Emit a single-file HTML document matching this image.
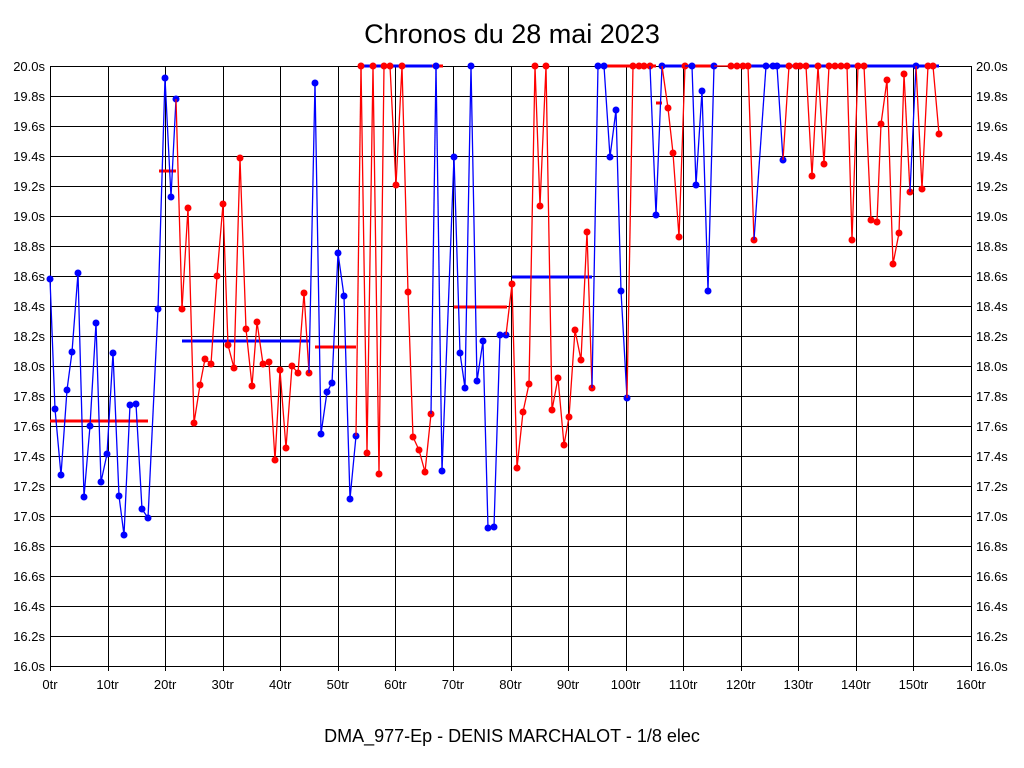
<!DOCTYPE html>
<html><head><meta charset="utf-8"><style>
body{margin:0;background:#fff;}
svg{display:block;font-family:"Liberation Sans",sans-serif;}
</style></head><body>
<svg id="s" width="1024" height="768" viewBox="0 0 1024 768">
<rect x="0" y="0" width="1024" height="768" fill="#fff"/>
<text x="512" y="43" font-size="27" text-anchor="middle">Chronos du 28 mai 2023</text>
<text x="512" y="742" font-size="18" text-anchor="middle">DMA_977-Ep - DENIS MARCHALOT - 1/8 elec</text>
<g id="grid" shape-rendering="crispEdges"></g><g id="avg"></g><g id="ser"></g>
</svg>
<script>
var NS="http://www.w3.org/2000/svg",s=document.getElementById('s');
function el(p,t,a,txt){var e=document.createElementNS(NS,t);for(var k in a)e.setAttribute(k,a[k]);if(txt!=null)e.textContent=txt;document.getElementById(p).appendChild(e);return e;}
var x0=50,x1=971,y0=66,y1=666;
for(var i=0;i<=16;i++){var xr=x0+(x1-x0)*i/16,x=Math.round(xr)+0.5;el('grid','line',{x1:x,y1:y0,x2:x,y2:y1+5,stroke:'#000','stroke-width':1});
el('grid','text',{x:xr,y:689,'font-size':13,'text-anchor':'middle'},(i*10)+'tr');}
for(var j=0;j<=20;j++){var y=y0+30*j+0.5;el('grid','line',{x1:x0,y1:y,x2:x1+0.5,y2:y,stroke:'#000','stroke-width':1});
var v=(20-j*0.2).toFixed(1)+'s';el('grid','text',{x:45,y:y+4.5,'font-size':13,'text-anchor':'end'},v);
el('grid','text',{x:976,y:y+4.5,'font-size':13},v);}
var R='#f00',B='#00f';
var avg=[[50,148,421,R],[159,176,171,R],[182,309,341,B],[315,356,347,R],[362,432,66,B],[432,443,66,R],[454,507,307,R],[512,592,277,B],[598,656,66,R],[656,662,103,R],[662,690,66,B],[690,715,66,R],[735,939,66,B]];
avg.forEach(function(a){el('avg','line',{x1:a[0],y1:a[2],x2:a[1],y2:a[2],stroke:a[3],'stroke-width':3});});
var segs=[
[B,[[50,279],[55,409],[61,475],[67,390],[72,352],[78,273],[84,497],[90,426],[96,323],[101,482],[107,454],[113,353],[119,496],[124,535],[130,405],[136,404],[142,509],[148,518]]],
[B,[[158,309],[165,78],[171,197],[176,99]]],
[R,[[182,309],[188,208],[194,423],[200,385],[205,359],[211,364],[217,276],[223,204],[228,345],[234,368],[240,158],[246,329],[252,386],[257,322],[263,364],[269,362],[275,460],[280,370],[286,448],[292,366],[298,373],[304,293],[309,373]]],
[B,[[315,83],[321,434],[327,392],[332,383],[338,253],[344,296],[350,499],[356,436]]],
[R,[[361,66],[367,453],[373,66],[379,474],[384,66],[390,66],[396,185],[402,66],[408,292],[413,437],[419,450],[425,472],[431,414]]],
[B,[[436,66],[442,471]]],
[B,[[454,157],[460,353],[465,388],[471,66],[477,381],[483,341],[488,528],[494,527],[500,335],[506,335]]],
[R,[[512,284],[517,468],[523,412],[529,384],[535,66],[540,206],[546,66],[552,410],[558,378],[564,445],[569,417],[575,330],[581,360],[587,232],[592,388]]],
[B,[[598,66],[604,66],[610,157],[616,110],[621,291],[627,398]]],
[R,[[633,66],[639,66],[644,66],[650,66]]],
[B,[[656,215],[662,66]]],
[R,[[668,108],[673,153],[679,237],[685,66]]],
[B,[[692,66],[696,185],[702,91],[708,291],[714,66]]],
[R,[[731,66],[737,66],[743,66],[748,66],[754,240]]],
[B,[[766,66],[773,66],[777,66],[783,160]]],
[R,[[789,66],[796,66],[800,66],[806,66],[812,176],[818,66],[824,164],[829,66],[835,66],[841,66],[847,66],[852,240],[858,66],[864,66],[871,220],[877,222],[881,124],[887,80],[893,264],[899,233],[904,74]]],
[R,[[910,192]]],[B,[[916,66]]],
[R,[[922,189],[928,66],[933,66],[939,134]]]
];
var prev=null;
segs.forEach(function(sg){var c=sg[0],pts=sg[1];
 if(prev){el('ser','line',{x1:prev[0],y1:prev[1],x2:pts[0][0],y2:pts[0][1],stroke:c,'stroke-width':1.3});}
 el('ser','polyline',{points:pts.map(function(p){return p.join(',')}).join(' '),fill:'none',stroke:c,'stroke-width':1.3});
 pts.forEach(function(p){el('ser','circle',{cx:p[0],cy:p[1],r:3.5,fill:c});});
 prev=pts[pts.length-1];
});
</script>
</body></html>
